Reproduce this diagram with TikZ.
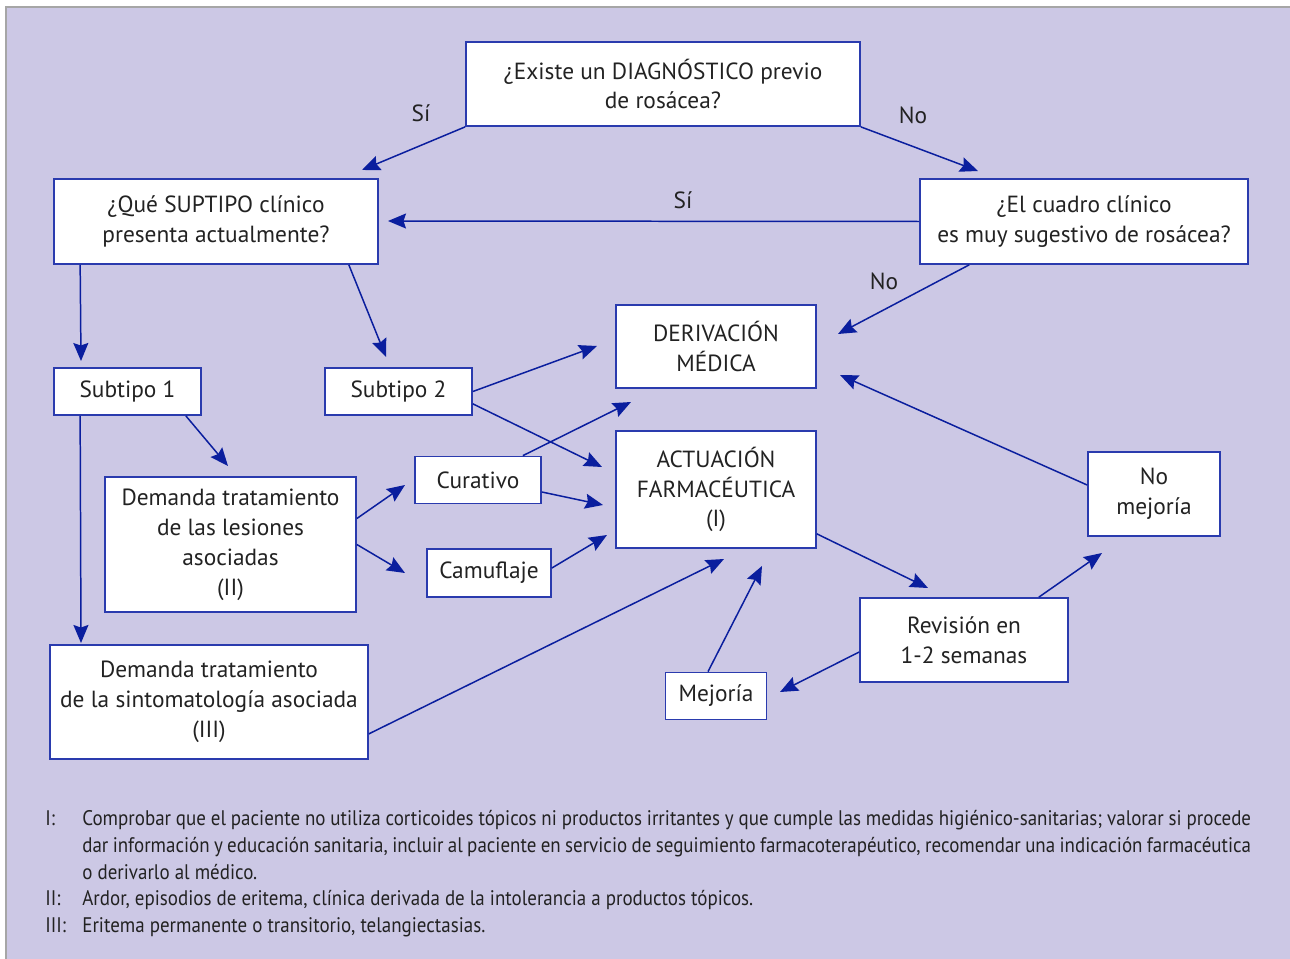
\documentclass[tikz,border=0pt]{standalone}
\usepackage{fontspec}
\setmainfont{PT Sans}
\newfontfamily\notefont{PT Sans}[FakeStretch=0.9]
\usepackage{xcolor}
\usepackage{tikz}
\usetikzlibrary{arrows.meta, calc}

\definecolor{fondo}{HTML}{CCC8E5}
\definecolor{borde}{HTML}{2A3BAE}
\definecolor{flecha}{HTML}{0A1E9E}
\definecolor{texto}{HTML}{222222}

\begin{document}
\begin{tikzpicture}[x=0.02cm, y=-0.02cm,
    caja/.style={draw=borde, line width=1pt, fill=white, inner sep=0pt, align=center,
        text=texto, font=\fontsize{13.3}{17}\selectfont},
    flec/.style={draw=flecha, line width=0.85pt, -{Stealth[length=0.36cm, width=0.3cm, inset=0.05cm]}},
    etiq/.style={text=texto, font=\fontsize{13.3}{17}\selectfont},
    nota/.style={anchor=north west, inner sep=0pt, text=texto, font=\notefont\fontsize{12}{15.3}\selectfont}]
        \useasboundingbox (0,0) rectangle (1290,959);
        \draw[fill=fondo, draw=gray!70, line width=0.8pt] (6,7) rectangle (1300,970);

        \node[caja, minimum width=7.88cm, minimum height=1.68cm] (diag) at (663,84) {¿Existe un DIAGNÓSTICO previo\\de rosácea?};
        \node[caja, minimum width=6.48cm, minimum height=1.70cm] (subq) at (216,221.5) {¿Qué SUPTIPO clínico\\presenta actualmente?};
        \node[caja, minimum width=6.56cm, minimum height=1.70cm] (cuadro) at (1084,221.5) {¿El cuadro clínico\\es muy sugestivo de rosácea?};
        \node[caja, minimum width=4.00cm, minimum height=1.66cm] (deriv) at (716,346.5) {DERIVACIÓN\\MÉDICA};
        \node[caja, minimum width=2.94cm, minimum height=0.94cm] (sub1) at (127.5,391.5) {Subtipo 1};
        \node[caja, minimum width=2.94cm, minimum height=0.94cm] (sub2) at (398.5,391.5) {Subtipo 2};
        \node[caja, minimum width=4.00cm, minimum height=2.34cm] (actua) at (716,489.5) {ACTUACIÓN\\FARMACÉUTICA\\(I)};
        \node[caja, minimum width=2.52cm, minimum height=0.94cm] (curat) at (478,480) {Curativo};
        \node[caja, minimum width=2.48cm, minimum height=0.96cm] (camuf) at (489,573) {Camuflaje};
        \node[caja, minimum width=5.02cm, minimum height=2.70cm] (dem2) at (230.5,544.5) {Demanda tratamiento\\de las lesiones\\asociadas\\(II)};
        \node[caja, minimum width=6.36cm, minimum height=2.28cm] (dem3) at (209,702) {Demanda tratamiento\\de la sintomatología asociada\\(III)};
        \node[caja, minimum width=4.16cm, minimum height=1.68cm] (revis) at (964,640) {Revisión en\\1-2 semanas};
        \node[caja, minimum width=2.02cm, minimum height=0.94cm] (mejor) at (716,696) {Mejoría};
        \node[caja, minimum width=2.64cm, minimum height=1.68cm] (nomej) at (1154,494) {No\\mejoría};

        \node[etiq] (si1) at (421,113) {Sí};
        \node[etiq] (no1) at (913,115) {No};
        \node[etiq] (si2) at (683,200) {Sí};
        \node[etiq] (no2) at (884,281) {No};

        % puntas de flecha
        \coordinate (p1) at (362,170);
        \coordinate (p2) at (978,171);
        \coordinate (p3) at (388,221);
        \coordinate (p4) at (838,334);
        \coordinate (p5) at (81,361);
        \coordinate (p6) at (386,357);
        \coordinate (p7) at (597,346);
        \coordinate (p8) at (602,467);
        \coordinate (p9) at (228,466);
        \coordinate (p10) at (81,643);
        \coordinate (p11) at (405,485);
        \coordinate (p12) at (405,573);
        \coordinate (p13) at (631,402);
        \coordinate (p14) at (603,505);
        \coordinate (p15) at (607,535);
        \coordinate (p16) at (724,559);
        \coordinate (p17) at (928,588);
        \coordinate (p18) at (1102,553);
        \coordinate (p19) at (840,375);
        \coordinate (p20) at (780,692);
        \coordinate (p21) at (762,566);

        \draw[flec] (diag.south west) -- (p1);
        \draw[flec] (diag.south east) -- (p2);
        \draw[flec] (cuadro.west) -- (p3);
        \draw[flec] ($(cuadro.south west)+(50,0)$) -- (p4);
        \draw[flec] ($(subq.south west)+(27,0)$) -- (p5);
        \draw[flec] ($(subq.south east)+(-30,0)$) -- (p6);
        \draw[flec] (sub2.east) -- (p7);
        \draw[flec] ($(sub2.south east)+(0,-12)$) -- (p8);
        \draw[flec] ($(sub1.south east)+(-16,0)$) -- (p9);
        \draw[flec] ($(sub1.south west)+(27,0)$) -- (p10);
        \draw[flec] ($(dem2.east)+(0,-26)$) -- (p11);
        \draw[flec] (dem2.east) -- (p12);
        \draw[flec] ($(curat.north east)+(-19,0)$) -- (p13);
        \draw[flec] ($(curat.east)+(0,12)$) -- (p14);
        \draw[flec] ($(camuf.east)+(0,-5)$) -- (p15);
        \draw[flec] ($(dem3.south east)+(0,-26)$) -- (p16);
        \draw[flec] ($(actua.south east)+(0,-15)$) -- (p17);
        \draw[flec] ($(revis.north east)+(-30,0)$) -- (p18);
        \draw[flec] ($(nomej.west)+(0,-9)$) -- (p19);
        \draw[flec] ($(revis.west)+(0,12)$) -- (p20);
        \draw[flec] ($(mejor.north)+(-8,0)$) -- (p21);

        % notas
        \node[nota] (ltI) at (45,810) {I:};
        \node[nota, text width=23.38cm, align=justify] (notaI) at (82,810)
            {Comprobar que el paciente no utiliza corticoides tópicos ni productos irritantes y que cumple las medidas higiénico-sanitarias; valorar si procede\linebreak
            dar información y educación sanitaria, incluir al paciente en servicio de seguimiento farmacoterapéutico, recomendar una indicación farmacéutica\linebreak
            o derivarlo al médico.};
        \node[nota] (ltII) at (45,890) {II:};
        \node[nota] (notaII) at (82,890) {Ardor, episodios de eritema, clínica derivada de la intolerancia a productos tópicos.};
        \node[nota] (ltIII) at (45,917) {III:};
        \node[nota] (notaIII) at (82,917) {Eritema permanente o transitorio, telangiectasias.};
    \end{tikzpicture}
\end{document}
